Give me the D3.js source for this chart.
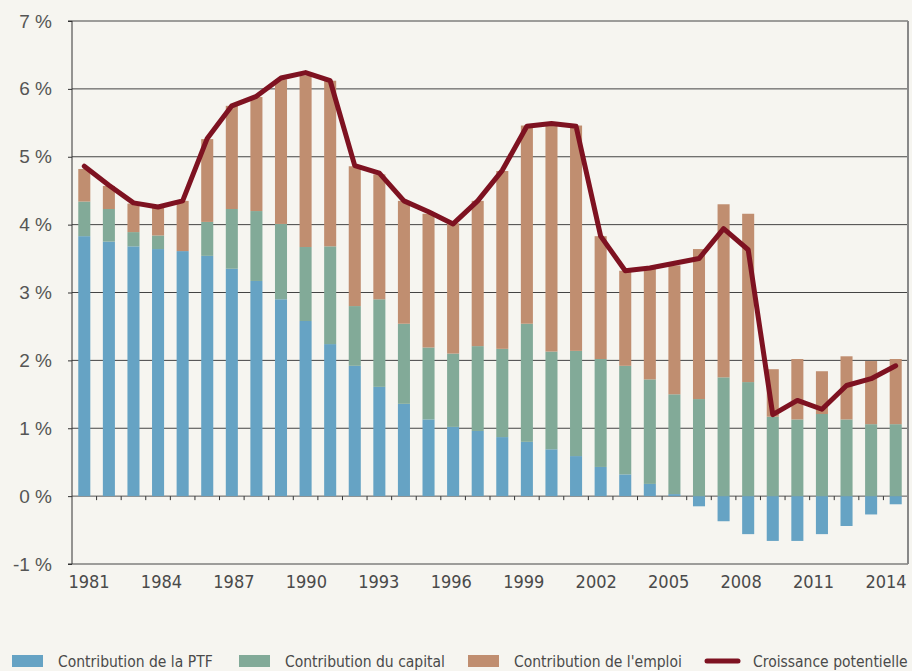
<!DOCTYPE html>
<html>
<head>
<meta charset="utf-8">
<script src="https://cdn.jsdelivr.net/npm/d3@7"></script>
<style>
  html, body { margin: 0; padding: 0; background: #f6f5f0; }
  svg { display: block; font-family: "DejaVu Sans Condensed", "Liberation Sans Narrow", "Roboto", sans-serif; }
</style>
</head>
<body>
<svg id="chart" width="912" height="671"></svg>
<script>
// years 1981..2014
const years = d3.range(1981, 2015)

// contributions, in points of %
const ptf = [3.83, 3.75, 3.68, 3.64, 3.61, 3.54, 3.35, 3.17, 2.90, 2.58,
  2.24, 1.92, 1.61, 1.36, 1.13, 1.02, 0.96, 0.87, 0.80, 0.69,
  0.59, 0.43, 0.32, 0.18, 0.03, -0.15, -0.37, -0.56, -0.66, -0.66,
  -0.56, -0.44, -0.27, -0.12]
const capital = [0.51, 0.48, 0.21, 0.20, 0.00, 0.50, 0.88, 1.03, 1.11, 1.09,
  1.44, 0.88, 1.29, 1.18, 1.06, 1.08, 1.25, 1.30, 1.74, 1.44,
  1.55, 1.59, 1.60, 1.54, 1.47, 1.43, 1.75, 1.68, 1.17, 1.13,
  1.21, 1.13, 1.06, 1.06]
const emploi = [0.48, 0.34, 0.42, 0.43, 0.74, 1.22, 1.52, 1.68, 2.13, 2.53,
  2.44, 2.06, 1.84, 1.81, 1.97, 1.92, 2.14, 2.62, 2.92, 3.36,
  3.32, 1.81, 1.40, 1.63, 1.90, 2.21, 2.55, 2.48, 0.70, 0.89,
  0.63, 0.93, 0.93, 0.96]
const croissance = [4.86, 4.58, 4.32, 4.26, 4.35, 5.27, 5.75, 5.89, 6.16, 6.24,
  6.12, 4.87, 4.76, 4.35, 4.19, 4.01, 4.35, 4.80, 5.45, 5.49,
  5.45, 3.83, 3.32, 3.36, 3.43, 3.50, 3.94, 3.63, 1.20, 1.41,
  1.28, 1.63, 1.73, 1.92]

const yTicks = [-1, 0, 1, 2, 3, 4, 5, 6, 7]
const labelYears = d3.range(1981, 2015, 3)

const keys = ["ptf", "capital", "emploi"]
const names = {
  ptf: "Contribution de la PTF",
  capital: "Contribution du capital",
  emploi: "Contribution de l'emploi",
  line: "Croissance potentielle"
}
const colors = { ptf: "#66a3c4", capital: "#82aa98", emploi: "#c08e70", line: "#7e1221" }

const data = years.map((y, i) => ({ year: y, ptf: ptf[i], capital: capital[i], emploi: emploi[i], total: croissance[i] }))

const svg = d3.select("#chart")
const mLeft = 72, mRight = 908, mTop = 21, mBottom = 564

const x = d3.scaleBand()
  .domain(years)
  .range([mLeft, mRight])
  .paddingInner(0.51)
  .paddingOuter(0.255)

const y = d3.scaleLinear()
  .domain([-1, 7])
  .range([mBottom, mTop])

// year labels are spread a bit tighter than the bars in the original
const xl = d3.scaleLinear()
  .domain([1981, 2014])
  .range([mLeft + 17, mRight - 22])

// grid
svg.append("g")
  .selectAll("line")
  .data(yTicks)
  .join("line")
  .attr("x1", mLeft)
  .attr("x2", mRight)
  .attr("y1", d => y(d))
  .attr("y2", d => y(d))
  .attr("stroke", d => d == 0 ? "#555" : "#444")
  .attr("stroke-width", 1)

// right border
svg.append("line")
  .attr("x1", mRight).attr("x2", mRight)
  .attr("y1", mTop).attr("y2", mBottom)
  .attr("stroke", "#888").attr("stroke-width", 2)

// bars
const series = d3.stack().keys(keys).offset(d3.stackOffsetDiverging)(data)

svg.append("g")
  .selectAll("g")
  .data(series)
  .join("g")
  .attr("fill", d => colors[d.key])
  .selectAll("rect")
  .data(d => d)
  .join("rect")
  .attr("x", d => x(d.data.year))
  .attr("width", x.bandwidth())
  .attr("y", d => y(Math.max(d[0], d[1])))
  .attr("height", d => Math.abs(y(d[0]) - y(d[1])))

// y axis
const yAxis = d3.axisLeft(y)
  .tickValues(yTicks)
  .tickSize(4)
  .tickFormat(d => d + " %")

svg.append("g")
  .attr("transform", `translate(${mLeft},0)`)
  .call(yAxis)
  .call(g => g.select(".domain").attr("stroke", "#333").attr("d", `M-4,${mTop}H0V${mBottom}H-4`))
  .call(g => g.selectAll(".tick line").attr("stroke", "#333"))
  .call(g => g.selectAll(".tick text")
    .attr("x", -20)
    .attr("fill", "#555")
    .style("font-size", "19px"))

// small ticks on the zero line, between bars
svg.append("g")
  .selectAll("line")
  .data(years.slice(1))
  .join("line")
  .attr("x1", d => x(d) - x.step() * x.paddingInner() / 2)
  .attr("x2", d => x(d) - x.step() * x.paddingInner() / 2)
  .attr("y1", y(0))
  .attr("y2", y(0) + 4)
  .attr("stroke", "#333")

// year labels
svg.append("g")
  .selectAll("text")
  .data(labelYears)
  .join("text")
  .attr("x", d => xl(d))
  .attr("y", 588)
  .attr("text-anchor", "middle")
  .attr("fill", "#4a4a4a")
  .style("font-size", "18px")
  .text(d => d)

// line
const line = d3.line()
  .x(d => x(d.year) + x.bandwidth() / 2)
  .y(d => y(d.total))

svg.append("path")
  .datum(data)
  .attr("fill", "none")
  .attr("stroke", colors.line)
  .attr("stroke-width", 5)
  .attr("stroke-linejoin", "round")
  .attr("stroke-linecap", "round")
  .attr("d", line)

// legend
const legendItems = [
  { key: "ptf", x: 12, tx: 58 },
  { key: "capital", x: 239, tx: 285 },
  { key: "emploi", x: 468, tx: 514 },
  { key: "line", x: 705, tx: 753 }
]

const lg = svg.append("g")
  .selectAll("g")
  .data(legendItems)
  .join("g")

lg.filter(d => d.key != "line")
  .append("rect")
  .attr("x", d => d.x)
  .attr("y", 655)
  .attr("width", 31)
  .attr("height", 12)
  .attr("fill", d => colors[d.key])

lg.filter(d => d.key == "line")
  .append("line")
  .attr("x1", d => d.x + 2)
  .attr("x2", d => d.x + 33)
  .attr("y1", 661)
  .attr("y2", 661)
  .attr("stroke", colors.line)
  .attr("stroke-width", 5)
  .attr("stroke-linecap", "round")

lg.append("text")
  .attr("x", d => d.tx)
  .attr("y", 667)
  .attr("fill", "#4a4a4a")
  .style("font-size", "15.5px")
  .text(d => names[d.key])
</script>
</body>
</html>
